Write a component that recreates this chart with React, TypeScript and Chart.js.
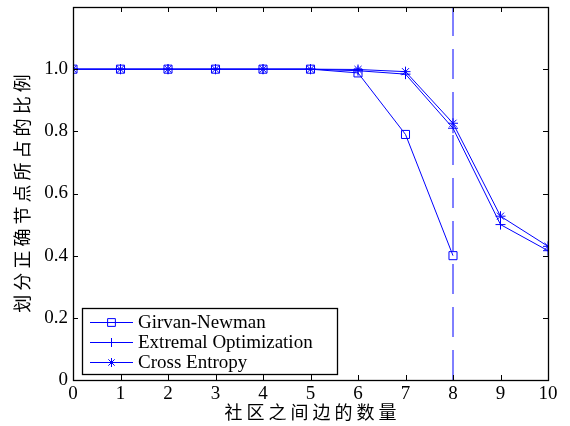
import React, { useEffect, useRef } from 'react';
import { Chart, registerables } from 'chart.js';

Chart.register(...registerables);

const categories = [0, 1, 2, 3, 4, 5, 6, 7, 8, 9, 10];
const girvanNewman = [1, 1, 1, 1, 1, 1, 0.988, 0.79, 0.4];
const extremalOptimization = [1, 1, 1, 1, 1, 1, 0.995, 0.984, 0.81, 0.5, 0.416];
const crossEntropy = [1, 1, 1, 1, 1, 1, 0.999, 0.992, 0.826, 0.527, 0.43];
const seriesNames = ['Girvan-Newman', 'Extremal Optimization', 'Cross Entropy'];
const seriesMarkers = ['rect', 'cross', 'star'];
const yTickValues = [0, 0.2, 0.4, 0.6, 0.8, 1.0, 1.2];
const xTitle = '社 区 之 间 边 的 数 量';
const yTitle = '划 分 正 确 节 点 所 占 的 比 例';
const dividerX = 8;

const BLUE = '#0000ff';
const SERIF = '"Liberation Serif", "DejaVu Serif", serif';
const CJK = '"Noto Sans CJK SC", sans-serif';

function toPoints(values: number[]) {
  return values.map((v, i) => ({ x: categories[i], y: v }));
}

function drawMarker(ctx: CanvasRenderingContext2D, style: string, x: number, y: number, r: number) {
  ctx.beginPath();
  if (style === 'rect') {
    const s = Math.SQRT1_2 * r;
    ctx.rect(x - s, y - s, 2 * s, 2 * s);
  } else {
    ctx.moveTo(x - r, y);
    ctx.lineTo(x + r, y);
    ctx.moveTo(x, y - r);
    ctx.lineTo(x, y + r);
    if (style === 'star') {
      const d = r * Math.SQRT1_2;
      ctx.moveTo(x - d, y - d);
      ctx.lineTo(x + d, y + d);
      ctx.moveTo(x - d, y + d);
      ctx.lineTo(x + d, y - d);
    }
  }
  ctx.stroke();
}

const framePlugin = {
  id: 'frame',
  afterDatasetsDraw(chart: any) {
    const { ctx, chartArea } = chart;
    const { left, right, top, bottom } = chartArea;
    const xs = chart.scales.x;
    const ys = chart.scales.y;
    const tl = 5;
    ctx.save();
    ctx.strokeStyle = '#000';
    ctx.lineWidth = 1;
    ctx.beginPath();
    categories.forEach((c) => {
      const px = Math.round(xs.getPixelForValue(c)) + 0.5;
      ctx.moveTo(px, bottom);
      ctx.lineTo(px, bottom - tl);
      ctx.moveTo(px, top);
      ctx.lineTo(px, top + tl);
    });
    yTickValues.forEach((v) => {
      const py = Math.round(ys.getPixelForValue(v)) + 0.5;
      ctx.moveTo(left, py);
      ctx.lineTo(left + tl, py);
      ctx.moveTo(right, py);
      ctx.lineTo(right - tl, py);
    });
    ctx.stroke();
    ctx.lineWidth = 1.3;
    ctx.strokeRect(Math.round(left) + 0.5, Math.round(top) + 0.5, Math.round(right - left), Math.round(bottom - top));
    ctx.restore();
  },
};

const legendPlugin = {
  id: 'customLegend',
  afterDraw(chart: any) {
    const { ctx } = chart;
    const bx = 82.5, by = 308.5, bw = 255, bh = 66;
    ctx.save();
    ctx.fillStyle = '#fff';
    ctx.fillRect(bx, by, bw, bh);
    ctx.strokeStyle = '#000';
    ctx.lineWidth = 1.3;
    ctx.strokeRect(bx, by, bw, bh);
    ctx.font = `19px ${SERIF}`;
    ctx.textBaseline = 'middle';
    ctx.textAlign = 'left';
    seriesNames.forEach((name, i) => {
      const y = 322 + i * 20;
      ctx.strokeStyle = BLUE;
      ctx.lineWidth = 1;
      ctx.beginPath();
      ctx.moveTo(90, y + 0.5);
      ctx.lineTo(133, y + 0.5);
      ctx.stroke();
      drawMarker(ctx, seriesMarkers[i], 111.5, y + 0.5, i === 0 ? 5.5 : 4.5);
      ctx.fillStyle = '#000';
      ctx.fillText(name, 138, y + 1);
    });
    ctx.restore();
  },
};

export default function App() {
  const ref = useRef<HTMLCanvasElement | null>(null);

  useEffect(() => {
    if (!ref.current) return;
    const mk = (label: string, values: number[], style: string, r: number) => ({
      label,
      data: toPoints(values),
      borderColor: BLUE,
      backgroundColor: 'transparent',
      borderWidth: 1,
      pointStyle: style,
      pointRadius: r,
      pointBorderColor: BLUE,
      pointBackgroundColor: 'transparent',
      pointBorderWidth: 1,
      tension: 0,
    });
    const chart = new Chart(ref.current, {
      type: 'line',
      data: {
        datasets: [
          mk(seriesNames[0], girvanNewman, 'rect', 5.7),
          mk(seriesNames[1], extremalOptimization, 'cross', 5),
          mk(seriesNames[2], crossEntropy, 'star', 5),
          {
            label: 'divider',
            data: [
              { x: dividerX, y: 0 },
              { x: dividerX, y: 1.2 },
            ],
            borderColor: BLUE,
            borderWidth: 1,
            borderDash: [30, 13],
            pointRadius: 0,
          } as any,
        ],
      },
      options: {
        responsive: false,
        animation: false,
        events: [],
        layout: { padding: { left: 0, top: 7, right: 22, bottom: 0 } },
        plugins: { legend: { display: false }, tooltip: { enabled: false } },
        scales: {
          x: {
            type: 'linear',
            min: 0,
            max: 10,
            grid: { display: false, drawTicks: false },
            border: { display: false },
            ticks: {
              stepSize: 1,
              padding: 3,
              color: '#000',
              font: { family: SERIF, size: 19 },
              maxRotation: 0,
              autoSkip: false,
            },
            title: {
              display: true,
              text: xTitle,
              color: '#000',
              font: { family: CJK, size: 18 },
              padding: { top: 0, bottom: 3 },
            },
            afterFit(scale: any) {
              scale.height = 46;
              scale.paddingLeft = 0;
              scale.paddingRight = 0;
            },
          },
          y: {
            type: 'linear',
            min: 0,
            max: 1.2,
            grid: { display: false, drawTicks: false },
            border: { display: false },
            ticks: {
              stepSize: 0.2,
              padding: 5,
              color: '#000',
              font: { family: SERIF, size: 19 },
              callback: (v: any) => {
                const n = Number(v);
                if (n > 1.1) return '';
                if (Math.abs(n) < 1e-9) return '0';
                return n.toFixed(1);
              },
            },
            title: {
              display: true,
              text: yTitle,
              color: '#000',
              font: { family: CJK, size: 18 },
              padding: { top: 11, bottom: 0 },
            },
            afterFit(scale: any) {
              scale.width = 73;
              scale.paddingTop = 0;
              scale.paddingBottom = 0;
            },
          },
        },
      },
      plugins: [framePlugin, legendPlugin],
    } as any);
    return () => chart.destroy();
  }, []);

  return (
    <div style={{ position: 'absolute', left: 0, top: 0, width: 570, height: 426, background: '#fff' }}>
      <canvas ref={ref} width={570} height={426} />
    </div>
  );
}
